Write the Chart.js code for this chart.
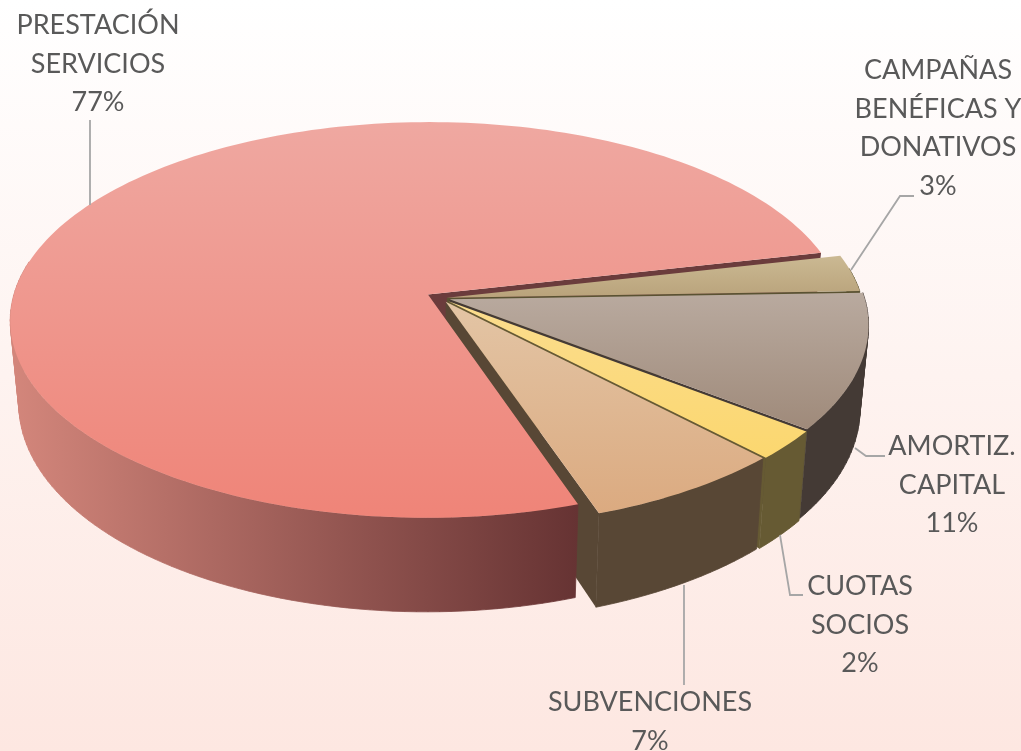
<!DOCTYPE html>
<html>
<head>
<meta charset="utf-8">
<style>
html,body{margin:0;padding:0;width:1021px;height:751px;overflow:hidden;background:linear-gradient(180deg,#ffffff 0%,#fde7e1 100%);}
canvas{display:block;}
</style>
<script src="https://cdn.jsdelivr.net/npm/chart.js@4/dist/chart.umd.js"></script>
</head>
<body>
<canvas id="myChart" width="1021" height="751"></canvas>
<script>
// slices clockwise, starting from the big one
var categories=['PRESTACIÓN SERVICIOS','CAMPAÑAS BENÉFICAS Y DONATIVOS','AMORTIZ. CAPITAL','CUOTAS SOCIOS','SUBVENCIONES']
var values=[76.6,3.0,11.0,2.4,6.9]
var labelLines=[['PRESTACIÓN','SERVICIOS'],['CAMPAÑAS','BENÉFICAS Y','DONATIVOS'],['AMORTIZ.','CAPITAL'],['CUOTAS','SOCIOS'],['SUBVENCIONES']]
var explode=[15,6,9,10,9]

var topColors=['#efa8a1','#cbb993','#b9aa9f','#fbdd8e','#e3c5a5']
var bottomColors=['#ef8478','#b9a37b','#9f8a7a','#fbd76f','#dbaa80']
var wallLeft=['#d3867b','#5a5232','#443a35','#665a33','#584735']
var wallRight=['#663333','#5a5232','#443a35','#665a33','#584735']
var cutColors=['#6b3c3c','#5a5232','#443a35','#665a33','#584735']

var labelX=[98,938,952,860,650]
var labelY=[25,70,446,586,702]
var leaders=[
    [[90,120],[90,205]],
    [[914,196],[900,196],[851,270]],
    [[885,456],[866,456],[855,448]],
    [[803,595],[790,595],[780,535]],
    [[684,585],[684,685]]
]

// fake 3d: flat pie coords -> screen
var tilt=0.471, persp=0.1285
function project(el,angle,r,down){
    var mid=(el.startAngle+el.endAngle)/2
    var o=el.options.offset||0
    var u=o*Math.cos(mid)+r*Math.cos(angle)
    var v=o*Math.sin(mid)+r*Math.sin(angle)
    var w=1-persp*v/el.outerRadius
    var x=el.x+u/w
    var y=el.y+tilt*v/w
    if(down){
        var d=82+0.055*(y-el.y)
        x=el.x+(x-el.x)*0.98
        y=y+d
    }
    return [x,y]
}
function sliceAngles(el){
    var out=[]
    var n=Math.max(4,Math.ceil((el.endAngle-el.startAngle)*40))
    for(var i=0;i<=n;i++) out.push(el.startAngle+(el.endAngle-el.startAngle)*i/n)
    return out
}
function addPoly(ctx,pts){
    pts.forEach(function(p,i){
        if(i==0) ctx.moveTo(p[0],p[1])
        else ctx.lineTo(p[0],p[1])
    })
    ctx.closePath()
}
function fillPath(ctx,pts,fill){
    ctx.beginPath()
    addPoly(ctx,pts)
    ctx.fillStyle=fill
    ctx.fill()
}
function signedArea(pts){
    var s=0
    for(var i=0;i<pts.length;i++){
        var a=pts[i], b=pts[(i+1)%pts.length]
        s+=a[0]*b[1]-b[0]*a[1]
    }
    return s
}

// top faces, still drawn by the chart itself
Chart.ArcElement.prototype.draw=function(ctx){
    var el=this
    var i=el.$context.dataIndex
    var pts=[project(el,0,0,false)].concat(sliceAngles(el).map(function(a){return project(el,a,el.outerRadius,false)}))
    var ys=pts.map(function(p){return p[1]})
    var g=ctx.createLinearGradient(0,Math.min.apply(null,ys),0,Math.max.apply(null,ys))
    g.addColorStop(0,topColors[i])
    g.addColorStop(1,bottomColors[i])
    fillPath(ctx,pts,g)
}

var wallsPlugin={
    id:'walls',
    beforeDatasetsDraw:function(chart){
        var ctx=chart.ctx
        var arcs=chart.getDatasetMeta(0).data
        // cut faces first, outer walls over them
        arcs.forEach(function(el,i){
            var ends=[]
            if(Math.cos(el.startAngle)<0) ends.push(el.startAngle)
            if(Math.cos(el.endAngle)>0) ends.push(el.endAngle)
            ends.forEach(function(a){
                fillPath(ctx,[
                    project(el,a,0,false),project(el,a,el.outerRadius,false),
                    project(el,a,el.outerRadius,true),project(el,a,0,true)
                ],cutColors[i])
            })
        })
        arcs.forEach(function(el,i){
            var g=ctx.createLinearGradient(14,0,578,0)
            g.addColorStop(0,wallLeft[i])
            g.addColorStop(1,wallRight[i])
            var list=sliceAngles(el)
            var r=el.outerRadius
            // one path with all the quads, so no seams between them
            ctx.beginPath()
            for(var j=0;j<list.length-1;j++){
                // back part of the rim is never seen
                if(Math.sin(list[j])<-0.15 && Math.sin(list[j+1])<-0.15) continue
                var quad=[
                    project(el,list[j],r,false),project(el,list[j+1],r,false),
                    project(el,list[j+1],r,true),project(el,list[j],r,true)
                ]
                if(signedArea(quad)<0) quad.reverse()
                addPoly(ctx,quad)
            }
            ctx.fillStyle=g
            ctx.fill()
            // closes the pale hairline where two walls meet
            ctx.strokeStyle=g
            ctx.lineWidth=0.8
            ctx.stroke()
        })
    },
    afterDatasetsDraw:function(chart){
        var ctx=chart.ctx
        ctx.strokeStyle='#a6a6a6'
        ctx.lineWidth=1.8
        leaders.forEach(function(line){
            ctx.beginPath()
            line.forEach(function(p,i){
                if(i==0) ctx.moveTo(p[0],p[1])
                else ctx.lineTo(p[0],p[1])
            })
            ctx.stroke()
        })
        ctx.fillStyle='#595959'
        ctx.font='27px Lato'
        ctx.textAlign='center'
        ctx.textBaseline='middle'
        labelLines.forEach(function(lines,i){
            var all=lines.concat([Math.round(values[i])+'%'])
            all.forEach(function(t,j){
                ctx.fillText(t,labelX[i],labelY[i]+j*38.8)
            })
        })
    }
}

var myChart=new Chart(document.getElementById('myChart'),{
    type:'pie',
    data:{
        labels:categories,
        datasets:[{
            data:values,
            offset:explode,
            backgroundColor:bottomColors,
            borderWidth:0,
            clip:false
        }]
    },
    options:{
        responsive:false,
        animation:false,
        rotation:161.2,
        radius:415,
        layout:{padding:{left:0,top:0,right:139,bottom:155}},
        plugins:{legend:{display:false},tooltip:{enabled:false}}
    },
    plugins:[wallsPlugin]
})
</script>
</body>
</html>
